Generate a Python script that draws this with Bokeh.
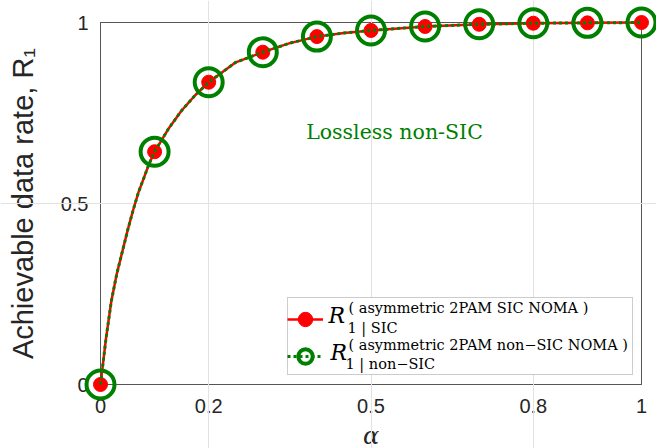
from bokeh.plotting import figure
from bokeh.models import (LinearAxis, FixedTicker, Range1d, Legend, LegendItem,
                          Label, Grid, BoxAnnotation)
from bokeh.embed import file_html
from bokeh.resources import INLINE

# ---------------- data ----------------
alpha_markers = [0.0, 0.1, 0.2, 0.3, 0.4, 0.5, 0.6, 0.7, 0.8, 0.9, 1.0]
r1_sic_markers = [0.0, 0.643, 0.835, 0.918, 0.961, 0.978, 0.989, 0.995, 0.998, 0.999, 1.0]
r1_nonsic_markers = [0.0, 0.643, 0.835, 0.918, 0.961, 0.978, 0.989, 0.995, 0.998, 0.999, 1.0]

alpha_curve = [0.0, 0.01, 0.02, 0.03, 0.04, 0.05, 0.06, 0.07, 0.08, 0.09, 0.1,
               0.125, 0.15, 0.175, 0.2, 0.25, 0.3, 0.35, 0.4, 0.45, 0.5,
               0.6, 0.7, 0.8, 0.9, 1.0]
r1_sic_curve = [0.0, 0.125, 0.23, 0.305, 0.365, 0.425, 0.48, 0.53, 0.57, 0.61, 0.643,
                0.705, 0.757, 0.799, 0.835, 0.89, 0.918, 0.943, 0.961, 0.971, 0.978,
                0.989, 0.995, 0.998, 0.999, 1.0]
r1_nonsic_curve = [0.0, 0.125, 0.23, 0.305, 0.365, 0.425, 0.48, 0.53, 0.57, 0.61, 0.643,
                   0.705, 0.757, 0.799, 0.835, 0.89, 0.918, 0.943, 0.961, 0.971, 0.978,
                   0.989, 0.995, 0.998, 0.999, 1.0]

x_ticks = [0, 0.2, 0.5, 0.8, 1]
x_tick_labels = ["0", "0.2", "0.5", "0.8", "1"]
y_ticks = [0, 0.5, 1]
y_tick_labels = ["0", "0.5", "1"]
x_grid_ticks = [0.2, 0.5, 0.8]
y_grid_ticks = [0.5]

# ---------------- layout geometry (canvas pixels) ----------------
W, H = 656, 448
BOX_L, BOX_R, BOX_T, BOX_B = 100, 641, 22, 384
sx = BOX_R - BOX_L
sy = BOX_B - BOX_T


def dx(px):
    return (px - BOX_L) / sx


def dy(py):
    return (BOX_B - py) / sy


# the frame covers the whole canvas; the axes box is drawn by fixed-location axes
x_range = Range1d(dx(0), dx(W))
y_range = Range1d(dy(H), dy(0))

p = figure(width=W, height=H, x_range=x_range, y_range=y_range,
           output_backend="svg", toolbar_location=None,
           x_axis_type=None, y_axis_type=None,
           min_border_left=0, min_border_right=0,
           min_border_top=0, min_border_bottom=0)
p.outline_line_color = None
p.background_fill_color = "white"
p.border_fill_color = "white"

# grids
p.add_layout(Grid(dimension=0, ticker=FixedTicker(ticks=x_grid_ticks), bounds=(0, 1),
                  grid_line_color="#e2e2e2", grid_line_width=1))
p.add_layout(Grid(dimension=1, ticker=FixedTicker(ticks=y_grid_ticks), bounds=(0, 1),
                  grid_line_color="#e2e2e2", grid_line_width=1))

AX_COLOR = "#555555"
TXT_COLOR = "#262626"

# legend frame (white box hiding the grid lines)
LEG_L, LEG_R, LEG_T, LEG_B = 287, 632, 297, 374
p.add_layout(BoxAnnotation(left=dx(LEG_L), right=dx(LEG_R), top=dy(LEG_T), bottom=dy(LEG_B),
                           fill_color="white", fill_alpha=1.0, line_color=AX_COLOR,
                           line_width=1, level="underlay", editable=False))


def make_axis(ticks, labels, loc, show):
    ax = LinearAxis(ticker=FixedTicker(ticks=ticks), fixed_location=loc, bounds=(0, 1))
    ax.major_label_overrides = {t: l for t, l in zip(ticks, labels)}
    ax.major_tick_in = 6
    ax.major_tick_out = 0
    ax.minor_tick_in = 0
    ax.minor_tick_out = 0
    ax.axis_line_color = AX_COLOR
    ax.axis_line_width = 1
    ax.major_tick_line_color = AX_COLOR
    ax.major_tick_line_width = 1
    ax.major_label_text_font = "Liberation Sans"
    ax.major_label_text_font_size = "20px"
    ax.major_label_text_color = TXT_COLOR if show else None
    ax.level = "underlay"
    return ax


xb = make_axis(x_ticks, x_tick_labels, 0, True)
xb.major_label_standoff = 14
xb.axis_label = "α"
xb.axis_label_text_font = "DejaVu Serif"
xb.axis_label_text_font_style = "italic"
xb.axis_label_text_font_size = "24px"
xb.axis_label_text_color = TXT_COLOR
xb.axis_label_standoff = 6

yl = make_axis(y_ticks, y_tick_labels, 0, True)
yl.major_label_standoff = 12
yl.axis_label = "Achievable data rate, R₁"
yl.axis_label_text_font = "Liberation Sans"
yl.axis_label_text_font_style = "normal"
yl.axis_label_text_font_size = "29px"
yl.axis_label_text_color = TXT_COLOR
yl.axis_label_standoff = 19

xt = make_axis(x_ticks, x_tick_labels, 1, False)
yr = make_axis(y_ticks, y_tick_labels, 1, False)

p.add_layout(xb, "below")
p.add_layout(yl, "left")
p.add_layout(xt, "above")
p.add_layout(yr, "right")

RED = "#ff0000"
GREEN = "#008000"

red_line = p.line(alpha_curve, r1_sic_curve, line_color=RED, line_width=2.5)
red_pts = p.scatter(alpha_markers, r1_sic_markers, size=14, fill_color=RED, line_color=RED)
green_line = p.line(alpha_curve, r1_nonsic_curve, line_color=GREEN, line_width=3, line_dash="3 3")
green_pts = p.scatter(alpha_markers, r1_nonsic_markers, size=28, fill_color=None,
                      line_color=GREEN, line_width=4)

legend = Legend(items=[LegendItem(label=" ", renderers=[red_line, red_pts]),
                       LegendItem(label=" ", renderers=[green_line, green_pts])],
                location=(LEG_L, H - LEG_B),
                glyph_width=36, glyph_height=36, label_width=300, label_height=36,
                label_standoff=5, spacing=1, padding=2, margin=0,
                border_line_color=None, background_fill_alpha=0.0,
                label_text_font_size="1px")
p.add_layout(legend, "center")

SERIF = "DejaVu Serif"


def lab(px, py, text, size, style="normal", color="black", align="left", base="middle"):
    p.add_layout(Label(x=dx(px), y=dy(py), text=text, text_font=SERIF,
                       text_font_style=style, text_font_size=size, text_color=color,
                       text_align=align, text_baseline=base))


# legend entry 1 (vertical centres)
lab(328, 315, "R", "22px", "italic")
lab(348, 307, "( asymmetric 2PAM SIC NOMA )", "14.5px")
lab(347, 327, "1 | SIC", "14.5px")
# legend entry 2
lab(330, 352, "R", "22px", "italic")
lab(348, 344.5, "( asymmetric 2PAM non−SIC NOMA )", "14.5px")
lab(345, 363, "1 | non−SIC", "14.5px")

# annotation
lab(394, 131.7, "Lossless non-SIC", "20.5px", color=GREEN, align="center")

open("out.html", "w").write(file_html(p, INLINE))
